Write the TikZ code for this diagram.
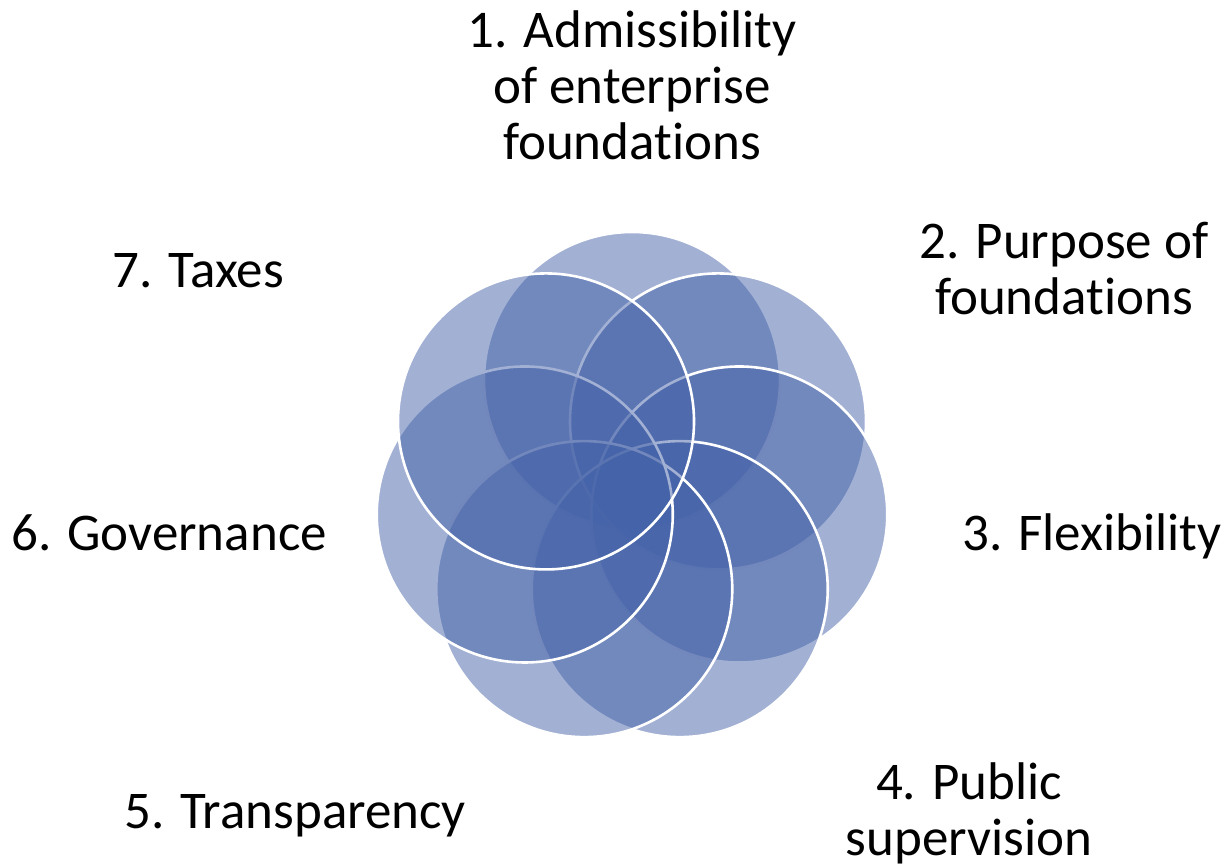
\documentclass[tikz,border=0pt]{standalone}
\usepackage{fontspec}
\setmainfont{Carlito}[Ligatures={NoCommon}]
\usetikzlibrary{calc}
\definecolor{petal}{RGB}{68,98,168}
\begin{document}
\begin{tikzpicture}[x=1pt,y=-1pt,
  petalcircle/.style={circle, minimum size=296pt, inner sep=0pt, fill=petal, fill opacity=0.5, draw=white, draw opacity=1, line width=2.6pt},
  lbl/.style={inner sep=0pt, font=\fontsize{53}{56}\selectfont, align=center, text=black}]
\useasboundingbox (0,0) rectangle (1225,865);
\coordinate (c) at (632,490);
\foreach \i in {1,...,7}{
  \node[petalcircle] (p\i) at ($(c)+({110*sin((\i-1)*360/7)},{-110*cos((\i-1)*360/7)})$) {};
}
\node[lbl, anchor=base] (t1) at (632,159) {1. Admissibility\\of enterprise\\foundations};
\node[lbl, anchor=base] (t2) at (1064,314) {2. Purpose of\\foundations};
\node[lbl, anchor=base] (t3) at (1092,550) {3. Flexibility};
\node[lbl, anchor=base] (t4) at (969,855) {4. Public\\supervision};
\node[lbl, anchor=base] (t5) at (295,828) {5. Transparency};
\node[lbl, anchor=base] (t6) at (169,550) {6. Governance};
\node[lbl, anchor=base] (t7) at (198,287) {7. Taxes};
\end{tikzpicture}
\end{document}
